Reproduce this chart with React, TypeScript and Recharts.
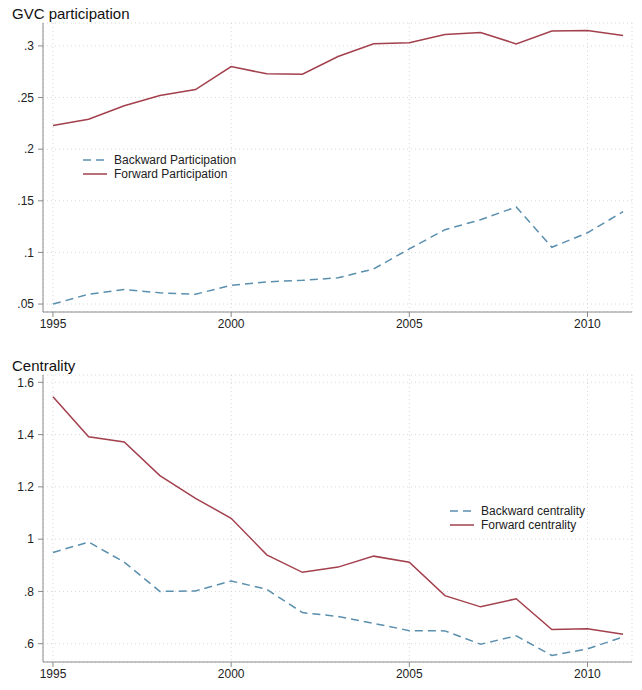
import React from "react";
import {
  LineChart,
  Line,
  XAxis,
  YAxis,
  CartesianGrid,
  Legend,
} from "recharts";

const years = [
  1995, 1996, 1997, 1998, 1999, 2000, 2001, 2002, 2003, 2004, 2005, 2006, 2007,
  2008, 2009, 2010, 2011,
];
const backwardParticipation = [
  0.05, 0.0595, 0.064, 0.0609, 0.0595, 0.0682, 0.0715, 0.073, 0.0754, 0.084,
  0.1034, 0.122, 0.1317, 0.144, 0.105, 0.119, 0.1395,
];
const forwardParticipation = [
  0.223, 0.229, 0.242, 0.252, 0.2577, 0.28, 0.273, 0.2726, 0.2897, 0.302, 0.303,
  0.311, 0.313, 0.302, 0.3145, 0.315, 0.31,
];
const backwardCentrality = [
  0.949, 0.989, 0.912, 0.8, 0.802, 0.84, 0.808, 0.719, 0.704, 0.678, 0.65,
  0.649, 0.598, 0.63, 0.555, 0.58, 0.626,
];
const forwardCentrality = [
  1.545, 1.392, 1.372, 1.243, 1.156, 1.08, 0.94, 0.873, 0.893, 0.935, 0.912,
  0.784, 0.741, 0.772, 0.654, 0.657, 0.636,
];
const yearTicks = [1995, 2000, 2005, 2010];
const participationTicks = [0.05, 0.1, 0.15, 0.2, 0.25, 0.3];
const centralityTicks = [0.6, 0.8, 1, 1.2, 1.4, 1.6];

const participationData = years.map((y, i) => ({
  year: y,
  backward: backwardParticipation[i],
  forward: forwardParticipation[i],
}));
const centralityData = years.map((y, i) => ({
  year: y,
  backward: backwardCentrality[i],
  forward: forwardCentrality[i],
}));

const FONT = "'Liberation Sans', Arial, sans-serif";
const BLUE = "#5b8fae";
const RED = "#a3404d";
const AXIS = "#8a8a8a";
const tick = { fill: "#222", fontSize: 12, fontFamily: FONT };
const fmt = (v: number) => String(v).replace(/^0\./, ".");

function LegendBox({ payload }: { payload?: any[] }) {
  return (
    <div style={{ fontFamily: FONT, fontSize: 12, color: "#222" }}>
      {(payload || []).map((p) => (
        <div
          key={p.value}
          style={{ display: "flex", alignItems: "center", height: 14 }}
        >
          <svg width={32} height={10}>
            <line
              x1={1}
              y1={5}
              x2={25}
              y2={5}
              stroke={p.color}
              strokeWidth={1.5}
              strokeDasharray={p.payload?.strokeDasharray}
            />
          </svg>
          <span>{p.value}</span>
        </div>
      ))}
    </div>
  );
}

function Panel({
  title,
  data,
  ticks,
  domain,
  height,
  top,
  bottom,
  names,
  legendPos,
}: {
  title: string;
  data: any[];
  ticks: number[];
  domain: [number, number];
  height: number;
  top: number;
  bottom: number;
  names: [string, string];
  legendPos: { left: number; top: number };
}) {
  return (
    <div style={{ position: "relative", width: 642, height }}>
      <div
        style={{
          position: "absolute",
          left: 12,
          top: top - 18,
          fontFamily: FONT,
          fontSize: 15,
          lineHeight: "17px",
          color: "#111",
        }}
      >
        {title}
      </div>
      <LineChart
        width={642}
        height={height}
        data={data}
        margin={{ top, right: 10, bottom, left: 0 }}
      >
        <CartesianGrid stroke="#d8d8d8" strokeDasharray="1 3" />
        <XAxis
          dataKey="year"
          type="number"
          domain={[1994.72, 2011.25]}
          ticks={yearTicks}
          height={18}
          tick={tick}
          stroke={AXIS}
          tickSize={5}
          tickMargin={2}
        />
        <YAxis
          type="number"
          domain={domain}
          ticks={ticks}
          width={43}
          tick={tick}
          tickFormatter={fmt}
          stroke={AXIS}
          tickSize={5}
          tickMargin={4}
        />
        <Legend
          layout="vertical"
          align="center"
          verticalAlign="middle"
          wrapperStyle={{ ...legendPos, width: "auto" }}
          content={<LegendBox />}
        />
        <Line
          dataKey="backward"
          name={names[0]}
          stroke={BLUE}
          strokeWidth={1.5}
          strokeDasharray="8 5"
          dot={false}
          isAnimationActive={false}
        />
        <Line
          dataKey="forward"
          name={names[1]}
          stroke={RED}
          strokeWidth={1.5}
          dot={false}
          isAnimationActive={false}
        />
      </LineChart>
    </div>
  );
}

export default function App() {
  return (
    <div
      style={{
        position: "absolute",
        left: 0,
        top: 0,
        width: 642,
        height: 690,
        background: "#fff",
      }}
    >
      <Panel
        title="GVC participation"
        data={participationData}
        ticks={participationTicks}
        domain={[0.0423, 0.3222]}
        height={330}
        top={23}
        bottom={0}
        names={["Backward Participation", "Forward Participation"]}
        legendPos={{ left: 82, top: 153 }}
      />
      <Panel
        title="Centrality"
        data={centralityData}
        ticks={centralityTicks}
        domain={[0.53, 1.628]}
        height={360}
        top={45}
        bottom={10}
        names={["Backward centrality", "Forward centrality"]}
        legendPos={{ left: 449, top: 174 }}
      />
    </div>
  );
}
